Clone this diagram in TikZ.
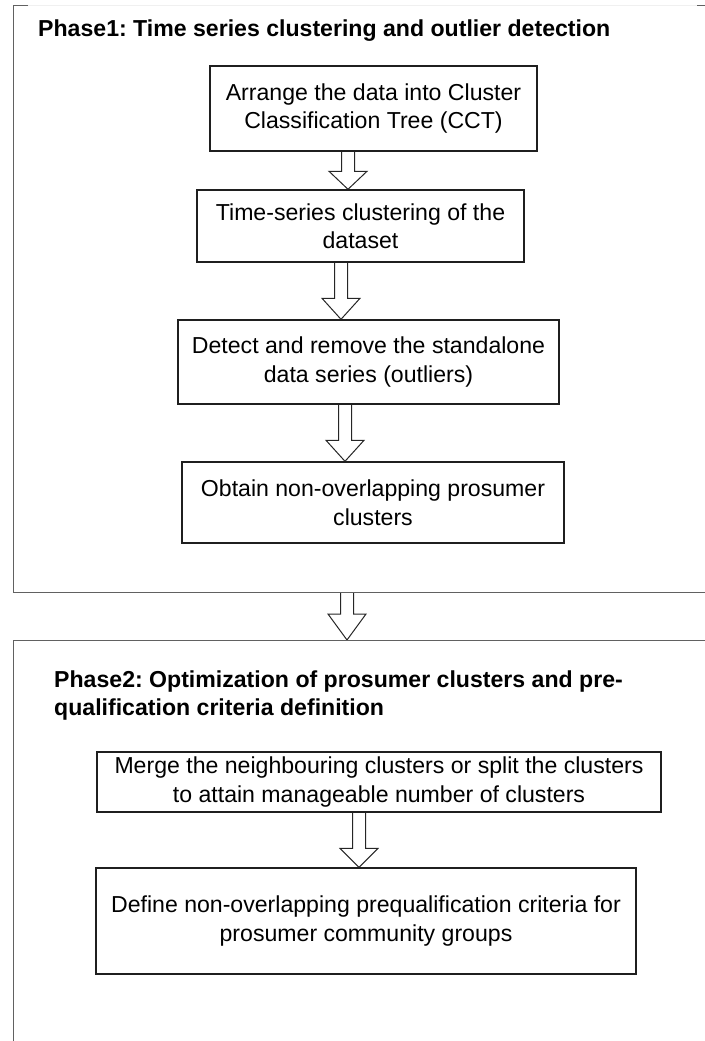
\documentclass[tikz,border=0pt]{standalone}
\usepackage{fontspec}
\setmainfont{Liberation Sans}
\usetikzlibrary{calc}
\pgfdeclarelayer{background}
\pgfsetlayers{background,main}
\frenchspacing

% hollow block arrow: from (#1) to (#2), axis at x=#3, head length #4
\newcommand\hollowarrow[4]{%
  \begin{pgfonlayer}{background}
  \path[blockarrow] let \p1=(#1), \p2=(#2) in
    (#3pt-6.5pt,\y1) -- (#3pt-6.5pt,\y2+#4pt) -- (#3pt-19pt,\y2+#4pt) --
    (#3pt,\y2) -- (#3pt+19pt,\y2+#4pt) -- (#3pt+6.5pt,\y2+#4pt) -- (#3pt+6.5pt,\y1);
  \end{pgfonlayer}}

\begin{document}
\begin{tikzpicture}[x=1pt,y=-1pt,
  stepbox/.style={draw=black!88, line width=1.4pt, align=center, inner sep=0pt,
    font=\fontsize{23.1}{28.5}\selectfont},
  frameline/.style={draw=black!62, line width=1pt},
  phasetitle/.style={anchor=base west, inner sep=0pt,
    font=\fontsize{23.1}{28.5}\selectfont\bfseries},
  blockarrow/.style={draw=black!85, line width=1pt, fill=white, line join=miter},
]
\useasboundingbox (0,0) rectangle (704,1041);

% ---- Phase 1 frame ----
\draw[draw=black!6, line width=1pt] (13,6) -- (710,6);
\draw[frameline] (28,6) -- (13,6) -- (13,592) -- (710,592);
\draw[frameline] (697,6) -- (710,6);
\coordinate (f1bot) at (347,592);

\node[phasetitle] (t1) at (38,37) {Phase1: Time series clustering and outlier detection};

\node[stepbox, minimum width=327pt, minimum height=85pt] (b1) at (373.5,108.5)
  {Arrange the data into Cluster\\Classification Tree (CCT)};
\node[stepbox, minimum width=327pt, minimum height=72pt] (b2) at (360.5,226)
  {Time-series clustering of the\\dataset};
\node[stepbox, minimum width=381pt, minimum height=84pt] (b3) at (368.5,362)
  {Detect and remove the standalone\\data series (outliers)};
\node[stepbox, minimum width=382pt, minimum height=81pt] (b4) at (373,502.5)
  {Obtain non-overlapping prosumer\\clusters};

\hollowarrow{b1.south}{b2.north}{348}{18}
\hollowarrow{b2.south}{b3.north}{341}{21}
\hollowarrow{b3.south}{b4.north}{345}{21}

% ---- Phase 2 frame ----
\draw[frameline] (710,640) -- (13,640) -- (13,1050);
\coordinate (f2top) at (347,640);
\hollowarrow{f1bot}{f2top}{347}{26}

\node[phasetitle] (t2a) at (54,687) {Phase2: Optimization of prosumer clusters and pre-};
\node[phasetitle] (t2b) at (54,715) {qualification criteria definition};

\node[stepbox, minimum width=564pt, minimum height=60pt] (b5) at (379,782)
  {Merge the neighbouring clusters or split the clusters\\to attain manageable number of clusters};
\node[stepbox, minimum width=540pt, minimum height=106pt] (b6) at (366,921)
  {Define non-overlapping prequalification criteria for\\prosumer community groups};

\hollowarrow{b5.south}{b6.north}{359}{19}
\end{tikzpicture}
\end{document}
